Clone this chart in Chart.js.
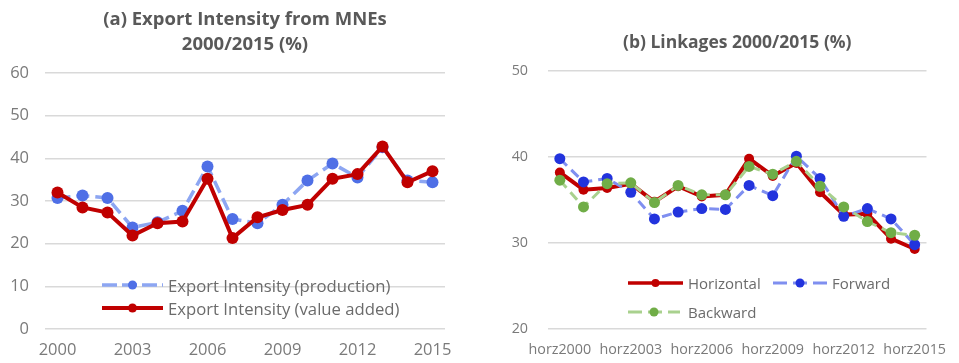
<!DOCTYPE html>
<html><head><meta charset="utf-8">
<script src="https://cdn.jsdelivr.net/npm/chart.js@4.4.1/dist/chart.umd.min.js"></script>
<style>
html,body{margin:0;padding:0;background:#fff;width:959px;height:363px;overflow:hidden;}
#wrapA{position:absolute;left:0;top:0;width:475px;height:363px;}
#wrapB{position:absolute;left:480px;top:0;width:479px;height:363px;}
.legend{position:absolute;left:0;top:0;font-family:"Open Sans", Lato, sans-serif;color:#6b6b6b;}
.item{position:absolute;display:flex;align-items:center;white-space:nowrap;height:20px;}
.item svg{display:block;}
</style></head><body>
<div id="wrapA"><canvas id="chartA" width="475" height="363"></canvas></div>
<div id="wrapB"><canvas id="chartB" width="479" height="363"></canvas></div>
<div id="legend" class="legend"></div>
<script>
// ---- data, panel (a) ----
const yearsA = ['2000','2001','2002','2003','2004','2005','2006','2007','2008','2009','2010','2011','2012','2013','2014','2015'];
const shownTicksA = ['2000','2003','2006','2009','2012','2015'];
const exportProduction = [30.7, 31.3, 30.7, 23.8, 25.0, 27.7, 38.1, 25.8, 24.8, 29.1, 34.8, 38.8, 35.5, 42.6, 34.8, 34.4];
const exportValueAdded = [32.0, 28.5, 27.3, 21.9, 24.8, 25.2, 35.2, 21.3, 26.2, 27.9, 29.1, 35.2, 36.3, 42.8, 34.4, 37.0];
// ---- data, panel (b) ----
const periodsB = ['horz2000','horz2001','horz2002','horz2003','horz2004','horz2005','horz2006','horz2007','horz2008','horz2009','horz2010','horz2011','horz2012','horz2013','horz2014','horz2015'];
const shownTicksB = ['horz2000','horz2003','horz2006','horz2009','horz2012','horz2015'];
const horizontal = [38.2, 36.2, 36.4, 36.9, 34.8, 36.6, 35.4, 35.6, 39.8, 37.8, 39.3, 35.9, 33.3, 33.4, 30.5, 29.3];
const forward    = [39.8, 37.1, 37.5, 35.9, 32.8, 33.6, 34.0, 33.9, 36.7, 35.5, 40.1, 37.5, 33.1, 34.0, 32.8, 29.8];
const backward   = [37.3, 34.2, 36.9, 37.0, 34.7, 36.7, 35.6, 35.6, 38.9, 38.0, 39.5, 36.6, 34.2, 32.5, 31.2, 30.9];

const FONT = '"Open Sans", Lato, sans-serif';
const TICK_COLOR = '#7a7a7a';
const GRID_COLOR = '#d9d9d9';
const TITLE_COLOR = '#595959';

function fixedWidth(w){ return function(scale){ scale.width = w; }; }
function fixedHeight(h){ return function(scale){ scale.height = h; }; }

function baseOptions(cfg){
  return {
    responsive:false,
    animation:false,
    devicePixelRatio:1,
    layout:{padding:{left:0,right:cfg.padRight,top:0,bottom:0}},
    plugins:{
      legend:{display:false},
      tooltip:{enabled:false},
      title:{
        display:true,
        fullSize:false,
        text:cfg.title,
        color:TITLE_COLOR,
        font:{family:FONT,size:cfg.titleFont,weight:'bold',lineHeight:25/cfg.titleFont},
        padding:{top:cfg.titleTop,bottom:cfg.titleBottom}
      }
    },
    scales:{
      x:{
        type:'category',
        offset:true,
        grid:{display:false,drawTicks:false},
        border:{display:false},
        afterFit:fixedHeight(34),
        ticks:{
          autoSkip:false,maxRotation:0,minRotation:0,
          padding:cfg.xPad,
          color:TICK_COLOR,
          font:{family:FONT,size:cfg.tickFont},
          callback:function(v){ const l=this.getLabelForValue(v); return cfg.shown.includes(l)?l:''; }
        }
      },
      y:{
        min:cfg.min,max:cfg.max,
        afterFit:fixedWidth(cfg.yWidth),
        border:{display:false},
        grid:{color:GRID_COLOR,lineWidth:1.4,drawTicks:false},
        ticks:{stepSize:10,padding:cfg.yPad,color:TICK_COLOR,font:{family:FONT,size:cfg.tickFont}}
      }
    }
  };
}

new Chart(document.getElementById('chartA'),{
  type:'line',
  data:{
    labels:yearsA,
    datasets:[
      {label:'Export Intensity (value added)',data:exportValueAdded,borderColor:'#c00000',backgroundColor:'#c00000',
       borderWidth:4,pointRadius:6,pointBorderWidth:0,pointBackgroundColor:'#c00000',tension:0,order:1},
      {label:'Export Intensity (production)',data:exportProduction,borderColor:'#8da6f2',backgroundColor:'#4f6fe6',
       borderWidth:3.5,borderDash:[13,6],pointRadius:6,pointBorderWidth:0,pointBackgroundColor:'#4f6fe6',tension:0,order:2}
    ]
  },
  options:baseOptions({title:['(a) Export Intensity from MNEs','2000/2015 (%)'],titleFont:18.5,titleTop:7.5,titleBottom:15.5,
    padRight:30,min:0,max:60,yWidth:45,yPad:16,shown:shownTicksA,tickFont:16.5,xPad:11})
});

new Chart(document.getElementById('chartB'),{
  type:'line',
  data:{
    labels:periodsB,
    datasets:[
      {label:'Backward',data:backward,borderColor:'#a9d18e',backgroundColor:'#70ad47',
       borderWidth:3,borderDash:[10,6],pointRadius:5.5,pointBorderWidth:0,pointBackgroundColor:'#70ad47',tension:0,order:1},
      {label:'Forward',data:forward,borderColor:'#7f8ff0',backgroundColor:'#2233dd',
       borderWidth:3,borderDash:[10,6],pointRadius:5.5,pointBorderWidth:0,pointBackgroundColor:'#2233dd',tension:0,order:2},
      {label:'Horizontal',data:horizontal,borderColor:'#c00000',backgroundColor:'#c00000',
       borderWidth:4,pointRadius:5,pointBorderWidth:0,pointBackgroundColor:'#c00000',tension:0,order:3}
    ]
  },
  options:baseOptions({title:'(b) Linkages 2000/2015 (%)',titleFont:17.5,titleTop:30.5,titleBottom:15.5,
    padRight:26,min:20,max:50,yWidth:68,yPad:20,shown:shownTicksB,tickFont:14.3,xPad:12})
});

// ---- HTML legends placed over the plot areas ----
function sample(w,color,dotColor,lw,dash,r){
  const d = dash ? ' stroke-dasharray="'+dash+'"' : '';
  return '<svg width="'+w+'" height="14"><line x1="0" y1="7" x2="'+w+'" y2="7" stroke="'+color+'" stroke-width="'+lw+'"'+d+'/>'+
         '<circle cx="'+(w/2)+'" cy="7" r="'+r+'" fill="'+dotColor+'"/></svg>';
}
const legendItems = [
  {x:102,y:285,w:61,gap:5,size:16.7,color:'#8da6f2',dot:'#4f6fe6',lw:3.5,dash:'15,5',r:4.5,text:'Export Intensity (production)'},
  {x:102,y:308,w:61,gap:5,size:16.7,color:'#c00000',dot:'#c00000',lw:4,dash:null,r:4.5,text:'Export Intensity (value added)'},
  {x:628,y:283,w:55,gap:5,size:15,color:'#c00000',dot:'#c00000',lw:3.5,dash:null,r:4,text:'Horizontal'},
  {x:773,y:283,w:54,gap:5,size:15,color:'#7f8ff0',dot:'#2233dd',lw:3,dash:'14,6',r:4.5,text:'Forward'},
  {x:628,y:312,w:52,gap:8,size:15,color:'#a9d18e',dot:'#70ad47',lw:3,dash:'14,6',r:4.5,text:'Backward'}
];
const leg = document.getElementById('legend');
legendItems.forEach(it=>{
  const div=document.createElement('div');
  div.className='item';
  div.style.left=it.x+'px';
  div.style.top=(it.y-10)+'px';
  div.style.fontSize=it.size+'px';
  div.innerHTML=sample(it.w,it.color,it.dot,it.lw,it.dash,it.r)+'<span style="margin-left:'+it.gap+'px">'+it.text+'</span>';
  leg.appendChild(div);
});
</script>
</body></html>
